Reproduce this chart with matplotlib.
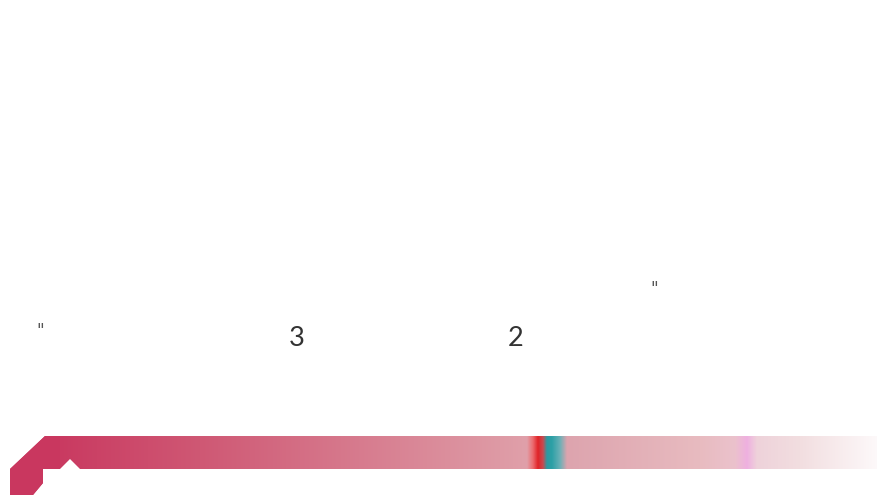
import numpy as np
import matplotlib.pyplot as plt
from matplotlib.path import Path
from matplotlib.patches import PathPatch
from matplotlib.colors import to_rgb

# text marks shown on the canvas
labels = ['"', '3', '2', '"']
label_x = [40, 297, 516, 654]
label_y = [331, 338, 338, 289]

# colour stops of the band (pixel column -> colour)
stop_x = [0, 45, 200, 500, 527, 533, 538, 543, 547, 552, 560, 567, 700, 735, 747, 757, 800, 878]
stop_c = ['#c9375f', '#c9375f', '#cf5874', '#de9aa5', '#e0a0aa', '#ec6a6e', '#e02428', '#c84a50',
          '#2c9aa2', '#2da0a6', '#6ab0b6', '#dda4ae', '#e8bbc0', '#ebc2cc', '#efb0e0', '#eed2da',
          '#f2dee0', '#fdf9fa']

W, H = 878, 495
fig = plt.figure(figsize=(W / 100, H / 100), dpi=100)
ax = fig.add_axes([0, 0, 1, 1])
ax.set_xlim(0, W)
ax.set_ylim(H, 0)
ax.axis('off')

cols = np.array([to_rgb(c) for c in stop_c])
xs = np.arange(W) + 0.5
grad = np.stack([np.interp(xs, stop_x, cols[:, k]) for k in range(3)], axis=-1)
grad = np.repeat(grad[None, :, :], 2, axis=0)

verts = [(10, 495), (10, 469), (45, 436), (878, 436), (878, 469), (80, 469), (70, 459),
         (60, 469), (43, 469), (43, 483), (33, 495), (10, 495)]
path = Path(verts, [Path.MOVETO] + [Path.LINETO] * (len(verts) - 2) + [Path.CLOSEPOLY])
patch = PathPatch(path, facecolor='none', edgecolor='none')
ax.add_patch(patch)
im = ax.imshow(grad, extent=[0, W, H, 436], aspect='auto', interpolation='bilinear')
im.set_clip_path(patch)

# left part below band keeps the base colour
ax.imshow(np.array([[to_rgb(stop_c[0])]]), extent=[0, 60, H, 436], aspect='auto',
          clip_path=patch, zorder=0)

for t, x, y in zip(labels, label_x, label_y):
    if t in ('3', '2'):
        ax.text(x, y, t, fontsize=19.5, color='#333333', ha='center', va='center',
                family='Lato')
    else:
        ax.text(x, y, t, fontsize=12, color='#555555', ha='center', va='center',
                style='oblique', family='DejaVu Sans')

fig.savefig('out.png', dpi=100)
